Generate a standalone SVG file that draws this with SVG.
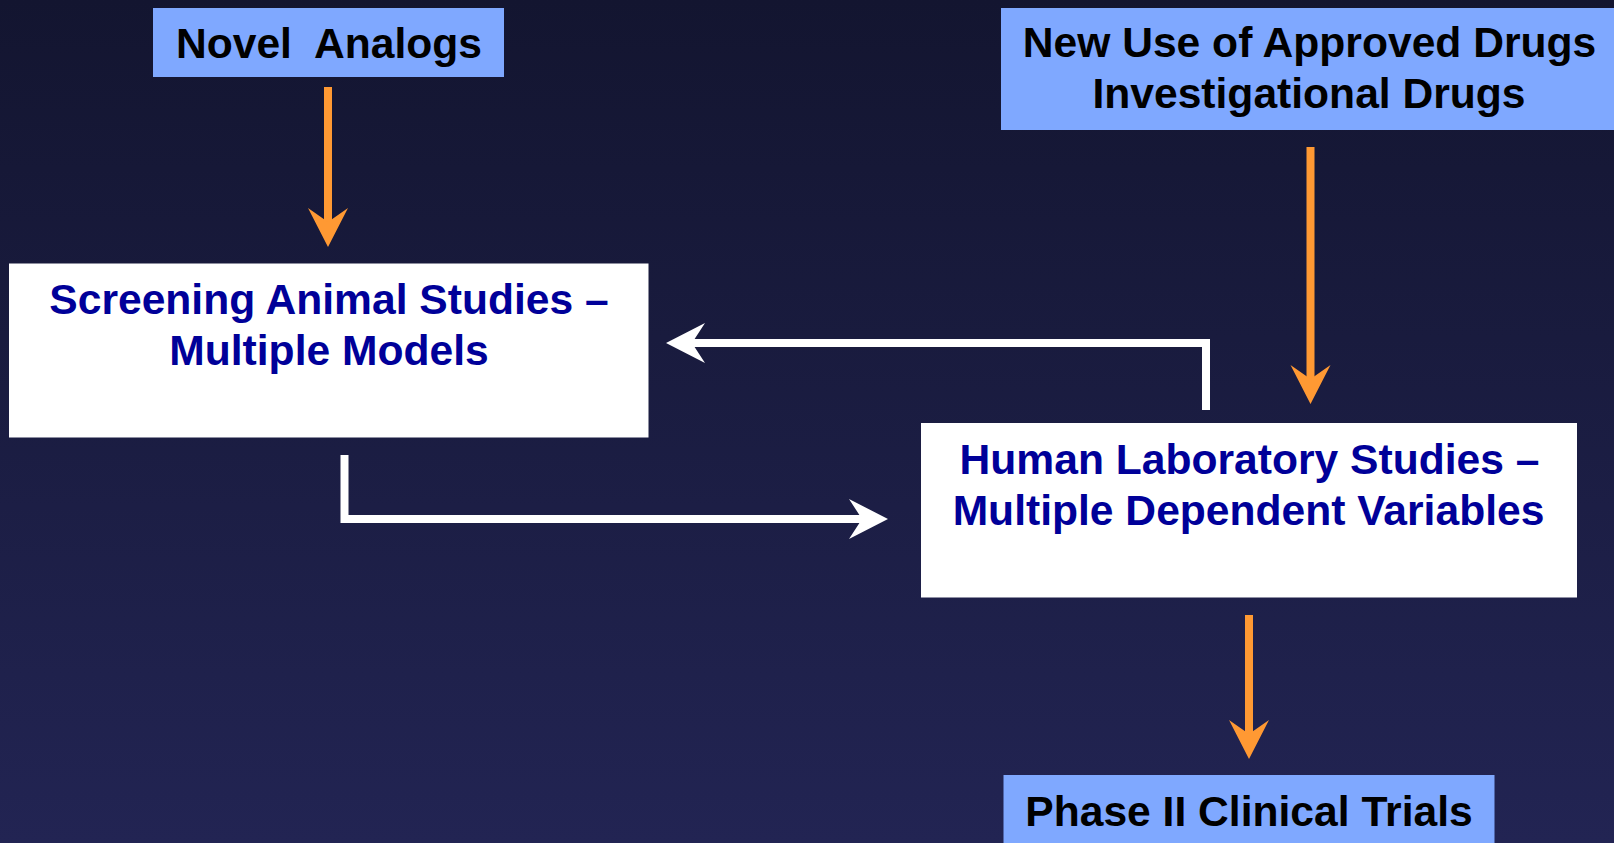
<svg xmlns="http://www.w3.org/2000/svg" width="1614" height="843" viewBox="0 0 1614 843">
  <defs>
    <linearGradient id="bg" x1="0" y1="0" x2="0" y2="1">
      <stop offset="0" stop-color="#131530"/>
      <stop offset="1" stop-color="#222453"/>
    </linearGradient>
    <!-- barbed arrowhead, tip at origin, pointing along +x -->
    <marker id="headOrange" viewBox="-40 -21 42 42" refX="-22" refY="0" markerWidth="42" markerHeight="42" markerUnits="userSpaceOnUse" orient="auto">
      <path d="M0,0 L-39,-20 L-25,0 L-39,20 Z" fill="#FF9933"/>
    </marker>
    <marker id="headWhite" viewBox="-40 -21 42 42" refX="-22" refY="0" markerWidth="42" markerHeight="42" markerUnits="userSpaceOnUse" orient="auto">
      <path d="M0,0 L-39,-20 L-26,0 L-39,20 Z" fill="#FFFFFF"/>
    </marker>
  </defs>
  <style>
    .src { fill: #7FA8FF; }
    .step { fill: #FFFFFF; }
    text { font-family: "Liberation Sans", Arial, sans-serif; font-weight: bold; font-size: 42.6px; text-anchor: middle; }
    .dark { fill: #000000; }
    .navy { fill: #000099; }
    .flow { fill: none; stroke: #FF9933; stroke-width: 8; marker-end: url(#headOrange); }
    .loop { fill: none; stroke: #FFFFFF; stroke-width: 8; stroke-linejoin: miter; marker-end: url(#headWhite); }
  </style>

  <rect x="0" y="0" width="1614" height="843" fill="url(#bg)"/>

  <g id="connectors">
    <path class="flow" d="M328,87 V225"/>
    <path class="flow" d="M1310.5,147 V382"/>
    <path class="flow" d="M1249,615 V737"/>
    <path class="loop" d="M1206,410 V343 H688"/>
    <path class="loop" d="M344.5,455 V519 H866"/>
  </g>

  <g id="novel-analogs">
    <rect class="src" x="153" y="8" width="351" height="69"/>
    <text class="dark" x="329" y="58" xml:space="preserve">Novel  Analogs</text>
  </g>

  <g id="new-use-drugs">
    <rect class="src" x="1001" y="8" width="613" height="122"/>
    <text class="dark" x="1309.5" y="57">New Use of Approved Drugs</text>
    <text class="dark" x="1309" y="108">Investigational Drugs</text>
  </g>

  <g id="screening-animal">
    <rect class="step" x="9" y="263.5" width="639.5" height="174"/>
    <text class="navy" x="329" y="314">Screening Animal Studies –</text>
    <text class="navy" x="329" y="365">Multiple Models</text>
  </g>

  <g id="human-laboratory">
    <rect class="step" x="921" y="423" width="656" height="174.5"/>
    <text class="navy" x="1249.5" y="474">Human Laboratory Studies –</text>
    <text class="navy" x="1248.5" y="525">Multiple Dependent Variables</text>
  </g>

  <g id="phase-ii">
    <rect class="src" x="1003.5" y="775" width="491" height="70"/>
    <text class="dark" x="1249" y="826">Phase II Clinical Trials</text>
  </g>
</svg>
